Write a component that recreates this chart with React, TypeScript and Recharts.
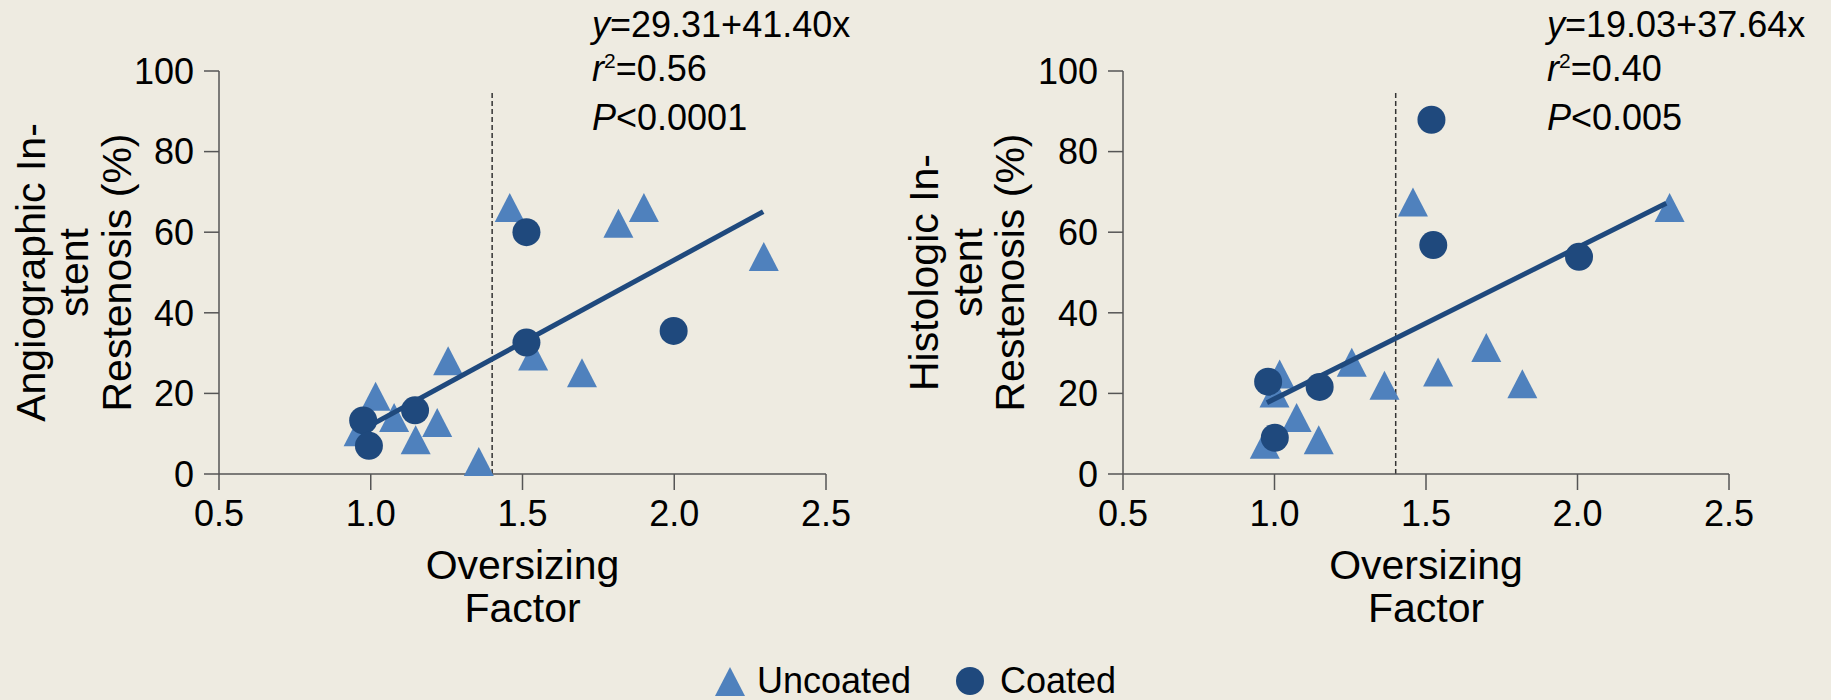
import { ScatterChart, Scatter, XAxis, YAxis, ReferenceLine, Label } from "recharts";

const xTicks = [0.5, 1.0, 1.5, 2.0, 2.5];
const yTicks = [0, 20, 40, 60, 80, 100];

// left panel: angiographic
const angioUncoated = [
  { x: 0.96, y: 10.5 },
  { x: 1.016, y: 19.3 },
  { x: 1.077, y: 14.0 },
  { x: 1.148, y: 8.5 },
  { x: 1.219, y: 12.8 },
  { x: 1.255, y: 28.1 },
  { x: 1.356, y: 3.1 },
  { x: 1.458, y: 66.1 },
  { x: 1.535, y: 29.3 },
  { x: 1.696, y: 25.1 },
  { x: 1.816, y: 62.2 },
  { x: 1.9, y: 66.1 },
  { x: 2.295, y: 54.0 },
];
const angioCoated = [
  { x: 0.975, y: 13.3 },
  { x: 0.994, y: 7.0 },
  { x: 1.146, y: 15.8 },
  { x: 1.513, y: 60.0 },
  { x: 1.513, y: 32.6 },
  { x: 1.998, y: 35.5 },
];
const angioFit = [
  { x: 0.97, y: 10.9 },
  { x: 2.293, y: 65.1 },
];
const angioStats = ["29.31+41.40x", "0.56", "<0.0001"];

// right panel: histologic
const histoUncoated = [
  { x: 0.968, y: 7.4 },
  { x: 1.0, y: 20.1 },
  { x: 1.017, y: 24.8 },
  { x: 1.073, y: 14.0 },
  { x: 1.146, y: 8.5 },
  { x: 1.255, y: 27.7 },
  { x: 1.363, y: 22.0 },
  { x: 1.457, y: 67.5 },
  { x: 1.54, y: 25.3 },
  { x: 1.699, y: 31.4 },
  { x: 1.818, y: 22.4 },
  { x: 2.304, y: 66.1 },
];
const histoCoated = [
  { x: 0.979, y: 22.9 },
  { x: 1.001, y: 9.0 },
  { x: 1.149, y: 21.6 },
  { x: 1.518, y: 87.9 },
  { x: 1.524, y: 56.8 },
  { x: 2.005, y: 53.9 },
];
const histoFit = [
  { x: 0.975, y: 17.7 },
  { x: 2.293, y: 67.2 },
];
const histoStats = ["19.03+37.64x", "0.40", "<0.005"];

const cutoffLine = [
  { x: 1.4, y: 0 },
  { x: 1.4, y: 95 },
];

const BG = "#EEEBE1";
const LIGHT = "#4F81BD";
const DARK = "#1F497D";
const AXIS = "#555";
const FONT = "'Liberation Sans', Arial, sans-serif";

const Triangle = (props: any) => {
  const { cx, cy } = props;
  return (
    <path
      d={`M${cx},${cy - 14.5}L${cx + 15},${cy + 14.5}L${cx - 15},${cy + 14.5}Z`}
      fill={LIGHT}
    />
  );
};

const Dot = (props: any) => <circle cx={props.cx} cy={props.cy} r={14} fill={DARK} />;

const NoShape = () => <g />;

interface PanelProps {
  width: number;
  axisW: number;
  rightM: number;
  uncoated: { x: number; y: number }[];
  coated: { x: number; y: number }[];
  fit: { x: number; y: number }[];
  yTitle: string[];
  yTitleX: number[];
}

const Panel = ({ width, axisW, rightM, uncoated, coated, fit, yTitle, yTitleX }: PanelProps) => (
  <ScatterChart width={width} height={700} margin={{ top: 71, right: rightM, bottom: 0, left: 0 }}>
    <XAxis
      type="number"
      dataKey="x"
      domain={[0.5, 2.5]}
      ticks={xTicks}
      interval={0}
      tickFormatter={(v: number) => v.toFixed(1)}
      height={226}
      tickSize={16}
      tickMargin={10}
      stroke={AXIS}
      strokeWidth={1.5}
      tick={{ fill: "#000", fontSize: 36 }}
    >
      <Label
        content={(p: any) => {
          const vb = p.viewBox || {};
          const cx = vb.x + vb.width / 2;
          return (
            <text textAnchor="middle" fontSize={41} fill="#000">
              <tspan x={cx} y={vb.y + 105}>Oversizing</tspan>
              <tspan x={cx} y={vb.y + 148}>Factor</tspan>
            </text>
          );
        }}
      />
    </XAxis>
    <YAxis
      type="number"
      dataKey="y"
      domain={[0, 100]}
      ticks={yTicks}
      interval={0}
      width={axisW}
      tickSize={15}
      tickMargin={10}
      stroke={AXIS}
      strokeWidth={1.5}
      tick={{ fill: "#000", fontSize: 36 }}
    >
      <Label
        content={(p: any) => {
          const vb = p.viewBox || {};
          const cy = vb.y + vb.height / 2;
          return (
            <g>
              {yTitle.map((t, i) => (
                <text
                  key={t}
                  x={yTitleX[i]}
                  y={cy}
                  transform={`rotate(-90, ${yTitleX[i]}, ${cy})`}
                  textAnchor="middle"
                  dominantBaseline="central"
                  fontSize={41}
                  fill="#000"
                >
                  {t}
                </text>
              ))}
            </g>
          );
        }}
      />
    </YAxis>
    <ReferenceLine segment={cutoffLine} stroke="#333" strokeWidth={1.5} strokeDasharray="5 3" />
    <Scatter data={uncoated} shape={Triangle} isAnimationActive={false} />
    <Scatter
      data={fit}
      line={{ stroke: DARK, strokeWidth: 5 }}
      shape={NoShape}
      isAnimationActive={false}
    />
    <Scatter data={coated} shape={Dot} isAnimationActive={false} />
  </ScatterChart>
);

const Stats = ({ left, values }: { left: number; values: string[] }) => (
  <div
    style={{
      position: "absolute",
      left,
      top: 3,
      fontSize: 36,
      lineHeight: "44px",
      color: "#000",
      whiteSpace: "nowrap",
    }}
  >
    <div>
      <i>y</i>={values[0]}
    </div>
    <div>
      <i>r</i>
      <span style={{ fontSize: 21, position: "relative", top: -13 }}>2</span>={values[1]}
    </div>
    <div>
      <i>P</i>
      {values[2]}
    </div>
  </div>
);

const LegendRow = () => (
  <div
    style={{
      position: "absolute",
      left: 0,
      top: 663,
      width: 1831,
      display: "flex",
      justifyContent: "center",
      alignItems: "center",
      fontSize: 36,
      lineHeight: "36px",
      color: "#000",
    }}
  >
    <svg width={30} height={29} style={{ marginRight: 12 }}>
      <path d="M15,0L30,29L0,29Z" fill={LIGHT} />
    </svg>
    <span style={{ marginRight: 45 }}>Uncoated</span>
    <svg width={28} height={28} style={{ marginRight: 16 }}>
      <circle cx={14} cy={14} r={14} fill={DARK} />
    </svg>
    <span>Coated</span>
  </div>
);

export default function App() {
  return (
    <div
      style={{
        position: "absolute",
        left: 0,
        top: 0,
        width: 1831,
        height: 700,
        background: BG,
        fontFamily: FONT,
        overflow: "hidden",
      }}
    >
      <div style={{ position: "absolute", left: 0, top: 0 }}>
        <Panel
          width={880}
          axisW={219}
          rightM={54}
          uncoated={angioUncoated}
          coated={angioCoated}
          fit={angioFit}
          yTitle={["Angiographic In-", "stent", "Restenosis (%)"]}
          yTitleX={[31, 74, 117]}
        />
      </div>
      <div style={{ position: "absolute", left: 880, top: 0 }}>
        <Panel
          width={951}
          axisW={243}
          rightM={102}
          uncoated={histoUncoated}
          coated={histoCoated}
          fit={histoFit}
          yTitle={["Histologic In-", "stent", "Restenosis (%)"]}
          yTitleX={[44, 88, 130]}
        />
      </div>
      <Stats left={592} values={angioStats} />
      <Stats left={1547} values={histoStats} />
      <LegendRow />
    </div>
  );
}
